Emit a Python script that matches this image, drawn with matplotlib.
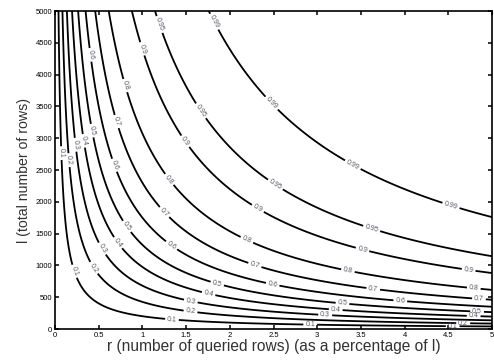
import numpy as np
import matplotlib
matplotlib.use('Agg')
import matplotlib.pyplot as plt

# contour levels shown on the chart
levels = [0.1, 0.2, 0.3, 0.4, 0.5, 0.6, 0.7, 0.8, 0.9, 0.95, 0.99]
p_row = 0.051
r_max = 5.0
l_max = 5000

x_ticks = [0, 0.5, 1, 1.5, 2, 2.5, 3, 3.5, 4, 4.5, 5]
y_ticks = [0, 500, 1000, 1500, 2000, 2500, 3000, 3500, 4000, 4500, 5000]

#probability surface over r (percent) and l (rows)
r = np.linspace(0, r_max, 400)
l = np.linspace(0, l_max, 400)
R, L = np.meshgrid(r, l)
P = 1 - (1 - p_row) ** (R * L / 100.0)

# where the labels sit (data coords)
label_pos = [
    (1.86, 4860), (2.50, 3580), (3.41, 2590), (4.53, 1940),
    (1.20, 4790), (1.68, 3440), (2.53, 2290), (3.63, 1610),
    (0.985, 4400), (1.51, 2970), (2.34, 1940), (3.52, 1260), (4.73, 905),
    (0.81, 3830), (1.34, 2385), (2.20, 1415), (3.35, 905), (4.79, 620),
    (0.70, 3260), (1.27, 1860), (2.29, 1020), (3.64, 620), (4.85, 460),
    (0.40, 4310), (0.68, 2575), (1.32, 1290), (2.49, 700), (3.95, 430),
    (0.41, 3115), (0.83, 1620), (1.86, 730), (3.29, 413), (4.83, 300),
    (0.31, 2955), (0.70, 1335), (1.75, 510), (3.21, 270), (4.79, 220),
    (0.22, 2895), (0.53, 1255), (1.55, 413), (3.09, 190),
    (0.16, 2655), (0.42, 940), (1.55, 270), (4.67, 110),
    (0.07, 2765), (0.25, 920), (1.34, 175), (2.92, 64), (4.55, 32),
]

plt.rcParams['font.family'] = ['Liberation Sans', 'DejaVu Sans']

fig = plt.figure(figsize=(4.94, 3.6), dpi=100)
ax = fig.add_axes([0.1113, 0.0861, 0.8847, 0.8833])

cs = ax.contour(R, L, P, levels=levels, colors='black', linewidths=1.3)
ax.clabel(cs, manual=label_pos, inline=True, inline_spacing=2,
          fmt=lambda v: '%g' % v, fontsize=5, colors='#555566')

ax.set_xlim(0, r_max)
ax.set_ylim(0, l_max)
ax.set_xticks(x_ticks)
ax.set_xticklabels(['%g' % t for t in x_ticks])
ax.set_yticks(y_ticks)
ax.tick_params(direction='in', length=3, width=1.1, labelsize=5.5,
               top=True, right=True, pad=2)
for s in ax.spines.values():
    s.set_linewidth(1.2)

ax.set_xlabel('r (number of queried rows) (as a percentage of l)', fontsize=11.2, labelpad=0, color='#333333')
ax.set_ylabel('l (total number of rows)', fontsize=10.2, labelpad=3, color='#333333')

fig.savefig('out.png', dpi=100)
